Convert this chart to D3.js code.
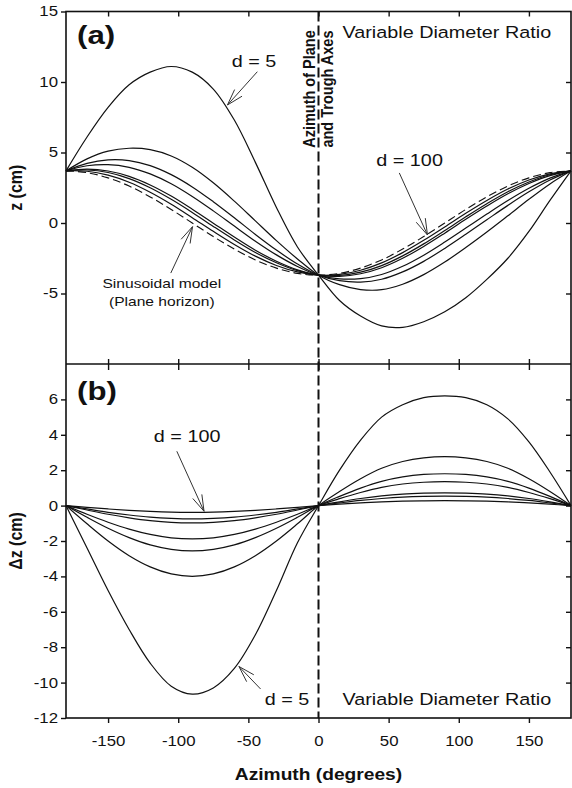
<!DOCTYPE html>
<html>
<head>
<meta charset="utf-8">
<script src="https://cdn.jsdelivr.net/npm/d3@7"></script>
<style>
  html, body { margin: 0; padding: 0; background: #fff; }
  svg { display: block; }
</style>
</head>
<body>
<svg id="chart" width="572" height="788"></svg>
<script>
// Azimuth sampling (degrees)
const azimuth = [-180, -165, -150, -135, -120, -105, -90, -75, -60, -45, -30, -15, 0,
                 15, 30, 45, 60, 75, 90, 105, 120, 135, 150, 165, 180];

// Panel (a): elevation z (cm) of the trough surface for each diameter ratio
const zSinusoid = [3.7, 3.57, 3.2, 2.62, 1.85, 0.96, 0, -0.96, -1.85, -2.62, -3.2, -3.57, -3.7,
                   -3.57, -3.2, -2.62, -1.85, -0.96, 0, 0.96, 1.85, 2.62, 3.2, 3.57, 3.7];
const zD5   = [3.7, 6.1, 8.2, 9.8, 10.7, 11.1, 10.7, 9.5, 7.3, 4.3, 1.1, -1.7, -3.7,
               -5.5, -6.6, -7.3, -7.4, -7.0, -6.3, -5.3, -4.0, -2.5, -0.6, 1.6, 3.7];
const zD10  = [3.7, 4.55, 5.1, 5.3, 5.2, 4.75, 3.95, 2.85, 1.55, 0.15, -1.25, -2.55, -3.7,
               -4.37, -4.72, -4.73, -4.34, -3.66, -2.77, -1.74, -0.64, 0.51, 1.68, 2.77, 3.7];
const zD15  = [3.7, 4.23, 4.48, 4.43, 4.07, 3.43, 2.56, 1.51, 0.37, -0.81, -1.92, -2.91, -3.7,
               -4.09, -4.19, -3.99, -3.47, -2.72, -1.8, -0.8, 0.23, 1.25, 2.21, 3.05, 3.7];
const zD20  = [3.7, 4.06, 4.14, 3.95, 3.48, 2.78, 1.88, 0.86, -0.22, -1.29, -2.26, -3.08, -3.7,
               -3.96, -3.94, -3.65, -3.07, -2.28, -1.35, -0.36, 0.63, 1.59, 2.46, 3.18, 3.7];
const zD40  = [3.7, 3.82, 3.69, 3.31, 2.7, 1.91, 0.98, -0.01, -1.0, -1.93, -2.71, -3.32, -3.7,
               -3.78, -3.6, -3.17, -2.5, -1.66, -0.72, 0.26, 1.2, 2.07, 2.8, 3.36, 3.7];
const zD50  = [3.7, 3.76, 3.58, 3.15, 2.5, 1.68, 0.75, -0.24, -1.2, -2.09, -2.82, -3.38, -3.7,
               -3.72, -3.49, -3.02, -2.33, -1.48, -0.53, 0.44, 1.37, 2.22, 2.91, 3.42, 3.7];
const zD100 = [3.7, 3.67, 3.39, 2.89, 2.18, 1.33, 0.38, -0.59, -1.52, -2.35, -3.01, -3.47, -3.7,
               -3.65, -3.35, -2.83, -2.1, -1.23, -0.28, 0.69, 1.6, 2.41, 3.05, 3.49, 3.7];

// Panel (b): difference Δz (cm) between the sinusoidal model and the trough model
const dzD5   = [0, -2.4, -4.8, -7.0, -8.9, -10.2, -10.65, -10.3, -9.2, -7.3, -4.8, -2.1, 0,
                2.0, 3.7, 5.0, 5.7, 6.1, 6.2, 6.1, 5.7, 4.9, 3.6, 1.9, 0];
const dzD10  = [0, -1.03, -2.0, -2.83, -3.46, -3.86, -4.0, -3.86, -3.46, -2.83, -2.0, -1.03, 0,
                0.8, 1.52, 2.11, 2.49, 2.7, 2.77, 2.7, 2.49, 2.11, 1.52, 0.8, 0];
const dzD15  = [0, -0.66, -1.28, -1.81, -2.22, -2.47, -2.56, -2.47, -2.22, -1.81, -1.28, -0.66, 0,
                0.52, 0.99, 1.37, 1.62, 1.76, 1.8, 1.76, 1.62, 1.37, 0.99, 0.52, 0];
const dzD20  = [0, -0.49, -0.94, -1.33, -1.63, -1.82, -1.88, -1.82, -1.63, -1.33, -0.94, -0.49, 0,
                0.39, 0.74, 1.03, 1.22, 1.32, 1.35, 1.32, 1.22, 1.03, 0.74, 0.39, 0];
const dzD40  = [0, -0.25, -0.49, -0.69, -0.85, -0.95, -0.98, -0.95, -0.85, -0.69, -0.49, -0.25, 0,
                0.21, 0.4, 0.55, 0.65, 0.7, 0.72, 0.7, 0.65, 0.55, 0.4, 0.21, 0];
const dzD50  = [0, -0.19, -0.38, -0.53, -0.65, -0.72, -0.75, -0.72, -0.65, -0.53, -0.38, -0.19, 0,
                0.15, 0.29, 0.4, 0.48, 0.52, 0.53, 0.52, 0.48, 0.4, 0.29, 0.15, 0];
const dzD100 = [0, -0.1, -0.19, -0.27, -0.33, -0.37, -0.38, -0.37, -0.33, -0.27, -0.19, -0.1, 0,
                0.08, 0.15, 0.21, 0.25, 0.27, 0.28, 0.27, 0.25, 0.21, 0.15, 0.08, 0];

// Tick values
const xTicks = [-150, -100, -50, 0, 50, 100, 150];
const yTicksTop = [-5, 0, 5, 10, 15];
const yTicksTopRight = [-5, 0, 5, 10];
const yTicksBottom = [-12, -10, -8, -6, -4, -2, 0, 2, 4, 6];
const yTicksBottomRight = [-10, -8, -6, -4, -2, 0, 2, 4, 6];

const topSeries = [zD5, zD10, zD15, zD20, zD40, zD50, zD100];
const bottomSeries = [dzD5, dzD10, dzD15, dzD20, dzD40, dzD50, dzD100];

// ---- layout ----
const FONT = "'Liberation Sans', Arial, Helvetica, sans-serif";
const SX = 1.2; // horizontal glyph stretch used for all text
const svg = d3.select("#chart");

const x = d3.scaleLinear().domain([-180, 180]).range([66, 571]);
const yTop = d3.scaleLinear().domain([-10, 15]).range([364, 11.5]);
const yBot = d3.scaleLinear().domain([-12, 8]).range([718, 364]);

const lineTop = d3.line().x((d, i) => x(azimuth[i])).y(d => yTop(d)).curve(d3.curveCatmullRom.alpha(0.5));
const lineBot = d3.line().x((d, i) => x(azimuth[i])).y(d => yBot(d)).curve(d3.curveCatmullRom.alpha(0.5));

// curves
const curves = svg.append("g").attr("fill", "none").attr("stroke", "#111").attr("stroke-width", 1.2);
curves.selectAll("path.top").data(topSeries).join("path").attr("class", "top").attr("d", lineTop);
curves.selectAll("path.bot").data(bottomSeries).join("path").attr("class", "bot").attr("d", lineBot);
curves.append("path").datum(zSinusoid).attr("d", lineTop)
  .attr("stroke-dasharray", "8,4").attr("stroke-width", 1.1);

// vertical dashed line at azimuth 0
svg.append("line")
  .attr("x1", x(0)).attr("x2", x(0)).attr("y1", yTop(15)).attr("y2", yBot(-12))
  .attr("stroke", "#111").attr("stroke-width", 2).attr("stroke-dasharray", "10,4");

// ---- axes ----
function styleAxis(g) {
  g.select(".domain").remove();
  g.selectAll("line").attr("stroke", "#111").attr("stroke-width", 1.4);
  g.selectAll("text").attr("font-family", FONT).attr("font-size", 14).attr("fill", "#111");
}
const fmt = d => String(d);

// left axes
const gLT = svg.append("g").attr("transform", `translate(${x(-180)},0)`)
  .call(d3.axisLeft(yTop).tickValues(yTicksTop).tickFormat(fmt).tickSize(5).tickPadding(3));
styleAxis(gLT);
const gLB = svg.append("g").attr("transform", `translate(${x(-180)},0)`)
  .call(d3.axisLeft(yBot).tickValues(yTicksBottom).tickFormat(fmt).tickSize(5).tickPadding(3));
styleAxis(gLB);
[gLT, gLB].forEach(g => g.selectAll("text").each(function () {
  const t = d3.select(this);
  const xx = +t.attr("x");
  t.attr("x", xx / SX).attr("transform", `scale(${SX},1)`);
}));

// right axes (inside ticks)
const gRT = svg.append("g").attr("transform", `translate(${x(180)},0)`)
  .call(d3.axisRight(yTop).tickValues(yTicksTopRight).tickFormat("").tickSize(-5));
styleAxis(gRT);
const gRB = svg.append("g").attr("transform", `translate(${x(180)},0)`)
  .call(d3.axisRight(yBot).tickValues(yTicksBottomRight).tickFormat("").tickSize(-5));
styleAxis(gRB);

// top axis (inside ticks)
const gT = svg.append("g").attr("transform", `translate(0,${yTop(15)})`)
  .call(d3.axisTop(x).tickValues(xTicks).tickFormat("").tickSize(-5));
styleAxis(gT);

// shared middle axis: ticks crossing
const gM = svg.append("g").attr("transform", `translate(0,${yTop(-10)})`)
  .call(d3.axisBottom(x).tickValues(xTicks).tickFormat("").tickSizeInner(6).tickSizeOuter(0));
styleAxis(gM);
gM.selectAll(".tick line").attr("y1", -5).attr("y2", 6);

// bottom axis
const gB = svg.append("g").attr("transform", `translate(0,${yBot(-12)})`)
  .call(d3.axisBottom(x).tickValues(xTicks).tickFormat(fmt).tickSize(5).tickPadding(13));
styleAxis(gB);
gB.selectAll("text").attr("transform", `scale(${SX},1)`).attr("dy", "0.71em").attr("x", 0);

// frame
svg.append("rect")
  .attr("x", x(-180)).attr("y", yTop(15))
  .attr("width", x(180) - x(-180)).attr("height", yBot(-12) - yTop(15))
  .attr("fill", "none").attr("stroke", "#111").attr("stroke-width", 1.6);
svg.append("line")
  .attr("x1", x(-180)).attr("x2", x(180)).attr("y1", yTop(-10)).attr("y2", yTop(-10))
  .attr("stroke", "#111").attr("stroke-width", 1.6);

// ---- text helpers ----
function label(px, py, str, opts = {}) {
  return svg.append("text")
    .attr("transform", `translate(${px},${py}) scale(${SX},1)` + (opts.rotate ? ` rotate(${opts.rotate})` : ""))
    .attr("font-family", FONT)
    .attr("font-size", opts.size || 16.5)
    .attr("font-weight", opts.bold ? "bold" : "normal")
    .attr("text-anchor", opts.anchor || "start")
    .attr("fill", "#111")
    .text(str);
}
function arrow(tail, tip, scaleY) {
  const x1 = x(tail[0]), y1 = scaleY(tail[1]);
  const x2 = x(tip[0]), y2 = scaleY(tip[1]);
  const ang = Math.atan2(y1 - y2, x1 - x2);
  const len = 17, half = 17 * Math.PI / 180;
  const g = svg.append("g").attr("stroke", "#333").attr("stroke-width", 1).attr("fill", "none");
  g.append("line").attr("x1", x1).attr("y1", y1).attr("x2", x2).attr("y2", y2);
  [-half, half].forEach(a => {
    g.append("line").attr("x1", x2).attr("y1", y2)
      .attr("x2", x2 + len * Math.cos(ang + a)).attr("y2", y2 + len * Math.sin(ang + a));
  });
}

// panel letters
label(x(-172.1), yTop(12.7), "(a)", { size: 26, bold: true });
label(x(-172.1), yBot(5.97), "(b)", { size: 26, bold: true });

// panel titles
label(x(17.1), yTop(13.15), "Variable Diameter Ratio");
label(x(17.1), yBot(-11.25), "Variable Diameter Ratio");

// annotations, panel (a)
label(x(-61.9), yTop(11.06), "d = 5");
arrow([-43.6, 10.73], [-64.9, 8.37], yTop);
label(x(41.2), yTop(4.04), "d = 100");
arrow([57.6, 3.55], [77.7, -0.85], yTop);
label(x(-111.7), yTop(-4.61), "Sinusoidal model", { size: 13, anchor: "middle" });
label(x(-111.7), yTop(-5.89), "(Plane horizon)", { size: 13, anchor: "middle" });
arrow([-105.3, -3.55], [-89.8, -0.26], yTop);

// annotations, panel (b)
label(x(-117.4), yBot(3.58), "d = 100");
arrow([-101, 3.07], [-81.6, -0.32], yBot);
label(x(-38.4), yBot(-11.25), "d = 5");
arrow([-41.3, -10.36], [-56.7, -9.09], yBot);

// rotated label beside the zero-azimuth line
const midA = yTop(9.5);
svg.append("text")
  .attr("transform", `translate(${x(0) - 4},${midA}) scale(${SX},1) rotate(-90)`)
  .attr("font-family", FONT).attr("font-size", 14.5).attr("font-weight", "bold")
  .attr("text-anchor", "middle").attr("fill", "#111").text("Azimuth of Plane");
svg.append("text")
  .attr("transform", `translate(${x(0) + 14},${midA}) scale(${SX},1) rotate(-90)`)
  .attr("font-family", FONT).attr("font-size", 14.5).attr("font-weight", "bold")
  .attr("text-anchor", "middle").attr("fill", "#111").text("and Trough Axes");

// axis titles
label((x(-180) + x(180)) / 2, 780, "Azimuth (degrees)", { size: 16, bold: true, anchor: "middle" });
label(22, (yTop(15) + yTop(-10)) / 2, "z (cm)", { size: 16, bold: true, anchor: "middle", rotate: -90 });
label(22, (yBot(8) + yBot(-12)) / 2, "Δz (cm)", { size: 16, bold: true, anchor: "middle", rotate: -90 });
</script>
</body>
</html>
